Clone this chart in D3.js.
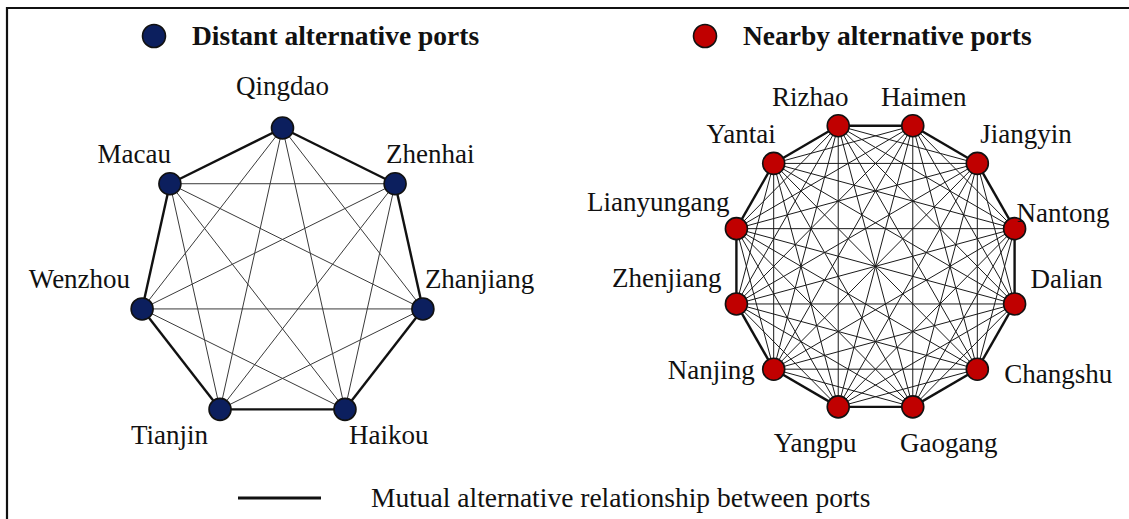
<!DOCTYPE html>
<html>
<head>
<meta charset="utf-8">
<script src="https://cdn.jsdelivr.net/npm/d3@7"></script>
<style>
  html, body { margin: 0; padding: 0; background: #fff; }
  svg { display: block; }
  text { font-family: "Liberation Serif", "Times New Roman", serif; fill: #111; }
</style>
</head>
<body>
<div id="chart"></div>
<script>
// port groups, clockwise from the top
var distantPorts = ['Qingdao', 'Zhenhai', 'Zhanjiang', 'Haikou', 'Tianjin', 'Wenzhou', 'Macau'];
var nearbyPorts = ['Haimen', 'Jiangyin', 'Nantong', 'Dalian', 'Changshu', 'Gaogang',
	'Yangpu', 'Nanjing', 'Zhenjiang', 'Lianyungang', 'Yantai', 'Rizhao'];
var legendLabels = ['Distant alternative ports', 'Nearby alternative ports'];
var edgeLegendLabel = 'Mutual alternative relationship between ports';

var width = 1129, height = 519;
var blue = '#0c1f5e', red = '#c00000';

// label placement [dx, dy, anchor] relative to node centre
var labelPos = {
	Qingdao: [0, -33, 'middle'], Zhenhai: [-9, -21, 'start'], Zhanjiang: [2, -21, 'start'],
	Haikou: [4, 35, 'start'], Tianjin: [-12, 35, 'end'], Wenzhou: [-12, -21, 'end'],
	Macau: [1, -21, 'end'],
	Haimen: [11, -20, 'middle'], Jiangyin: [3, -20, 'start'], Nantong: [2, -7, 'start'],
	Dalian: [16, -16, 'start'], Changshu: [27, 14, 'start'], Gaogang: [36, 45, 'middle'],
	Yangpu: [-23, 45, 'middle'], Nanjing: [-19, 10, 'end'], Zhenjiang: [-15, -17, 'end'],
	Lianyungang: [-7, -18, 'end'], Yantai: [2, -20, 'end'], Rizhao: [-28, -20, 'middle']
};

var svg = d3.select('#chart')
	.append('svg')
	.attr('width', width)
	.attr('height', height);

svg.append('rect')
	.attr('width', width)
	.attr('height', height)
	.attr('fill', '#fff');

// frame (top and left only visible)
svg.append('path')
	.attr('d', 'M7,' + height + 'V8H' + width)
	.attr('fill', 'none')
	.attr('stroke', '#111')
	.attr('stroke-width', 2.2);

var drawGraph = function(names, cx, cy, rx, ry, offset, fill, chordColor) {
	var n = names.length;
	var x = d3.scaleLinear().domain([-1, 1]).range([cx - rx, cx + rx]);
	var y = d3.scaleLinear().domain([-1, 1]).range([cy - ry, cy + ry]);
	var nodes = names.map(function(name, i) {
		var a = offset + i * 2 * Math.PI / n;
		return {name: name, i: i, x: x(Math.sin(a)), y: y(-Math.cos(a))};
	});
	var edges = [];
	nodes.forEach(function(a) {
		nodes.forEach(function(b) {
			if (a.i < b.i) edges.push({from: a, to: b, ring: (b.i - a.i === 1 || b.i - a.i === n - 1)});
		});
	});
	var g = svg.append('g');

	g.selectAll('.chord')
		.data(edges.filter(e => !e.ring))
		.enter()
		.append('line')
		.attr('class', 'chord')
		.attr('x1', e => e.from.x).attr('y1', e => e.from.y)
		.attr('x2', e => e.to.x).attr('y2', e => e.to.y)
		.attr('stroke', chordColor)
		.attr('stroke-width', 1);

	g.selectAll('.ring')
		.data(edges.filter(e => e.ring))
		.enter()
		.append('line')
		.attr('class', 'ring')
		.attr('x1', e => e.from.x).attr('y1', e => e.from.y)
		.attr('x2', e => e.to.x).attr('y2', e => e.to.y)
		.attr('stroke', '#111')
		.attr('stroke-width', 2.4);

	g.selectAll('.node')
		.data(nodes)
		.enter()
		.append('circle')
		.attr('class', 'node')
		.attr('cx', d => d.x).attr('cy', d => d.y)
		.attr('r', 11)
		.attr('fill', fill)
		.attr('stroke', '#111')
		.attr('stroke-width', 1.6);

	g.selectAll('.label')
		.data(nodes)
		.enter()
		.append('text')
		.attr('class', 'label')
		.attr('x', d => d.x + labelPos[d.name][0])
		.attr('y', d => d.y + labelPos[d.name][1])
		.attr('text-anchor', d => labelPos[d.name][2])
		.attr('font-size', 27)
		.text(d => d.name);
}

drawGraph(distantPorts, 282.5, 276, 144, 148, 0, blue, '#3a3a3a');
drawGraph(nearbyPorts, 875.5, 266.3, 144, 145.5, Math.PI / 12, red, '#1a1a1a');

// top legend
var legend = svg.selectAll('.legend')
	.data(legendLabels)
	.enter()
	.append('g')
	.attr('class', 'legend')
	.attr('transform', (d, i) => 'translate(' + [154, 705][i] + ',36)');

legend.append('circle')
	.attr('r', 11.5)
	.attr('fill', (d, i) => i === 0 ? blue : red)
	.attr('stroke', '#111')
	.attr('stroke-width', 1.6);

legend.append('text')
	.attr('x', 38)
	.attr('y', 9)
	.attr('font-size', 27.5)
	.attr('font-weight', 'bold')
	.text(d => d);

// bottom legend
svg.append('line')
	.attr('x1', 238).attr('x2', 321)
	.attr('y1', 498).attr('y2', 498)
	.attr('stroke', '#111')
	.attr('stroke-width', 3);

svg.append('text')
	.attr('x', 371)
	.attr('y', 507)
	.attr('font-size', 27.5)
	.text(edgeLegendLabel);
</script>
</body>
</html>
